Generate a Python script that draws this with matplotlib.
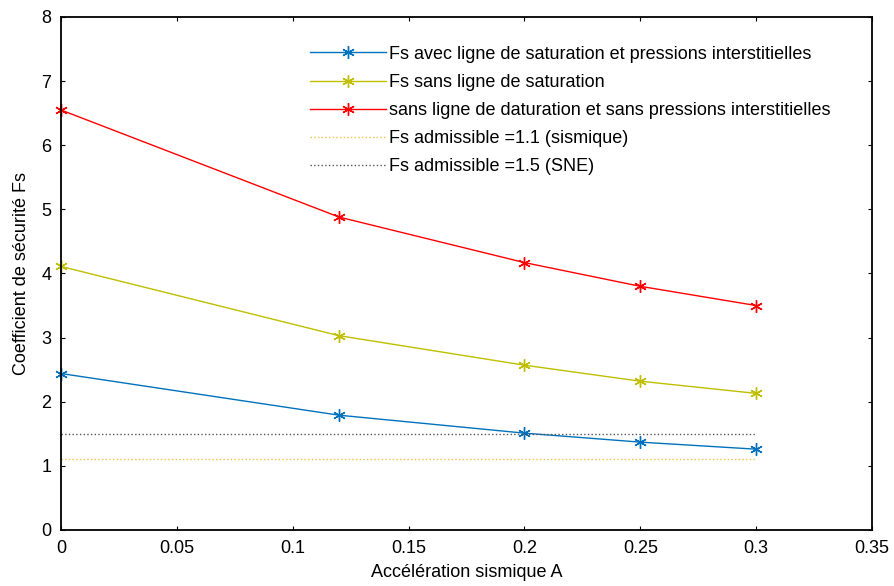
import numpy as np
import matplotlib.pyplot as plt

plt.rcParams['font.family'] = ['Liberation Sans', 'DejaVu Sans']

# accélération sismique A
accel = [0, 0.12, 0.2, 0.25, 0.3]
fs_sat_pi = [2.44, 1.79, 1.51, 1.37, 1.26]
fs_sans_sat = [4.11, 3.03, 2.57, 2.32, 2.13]
fs_sans_sat_pi = [6.55, 4.88, 4.17, 3.80, 3.50]
fs_adm_sism = 1.1
fs_adm_sne = 1.5

labels = [
    "Fs avec ligne de saturation et pressions interstitielles",
    "Fs sans ligne de saturation",
    "sans ligne de daturation et sans pressions interstitielles",
    "Fs admissible =1.1 (sismique)",
    "Fs admissible =1.5 (SNE)",
]

fig = plt.figure(figsize=(8.94, 5.86), dpi=100)
ax = fig.add_axes([0.0682, 0.0956, 0.9072, 0.8754])

star = (6, 2, 0)
kw = dict(lw=1, marker=star, ms=9, mew=1, clip_on=False)
ax.plot(accel, fs_sat_pi, color='#0072BD', label=labels[0], **kw)
ax.plot(accel, fs_sans_sat, color='#BFBF00', label=labels[1], **kw)
ax.plot(accel, fs_sans_sat_pi, color='#FF0000', label=labels[2], **kw)
ax.plot([accel[0], accel[-1]], [fs_adm_sism] * 2, color='#F2C04A', lw=1, ls=':', label=labels[3])
ax.plot([accel[0], accel[-1]], [fs_adm_sne] * 2, color='#555555', lw=1, ls=':', label=labels[4])

ax.set_xlim(0, 0.35)
ax.set_ylim(0, 8)
ax.set_xticks(np.arange(0, 0.351, 0.05))
ax.set_xticklabels(['0', '0.05', '0.1', '0.15', '0.2', '0.25', '0.3', '0.35'])
ax.set_yticks(range(0, 9))
ax.tick_params(direction='in', length=3, labelsize=13, pad=7, top=True, right=True,
               labeltop=False, labelright=False)
for s in ax.spines.values():
    s.set_linewidth(1.3)

ax.set_xlabel("Accélération sismique A", fontsize=13, labelpad=5)
ax.set_ylabel("Coefficient de sécurité Fs", fontsize=13, labelpad=8)

ax.legend(loc='upper left', bbox_to_anchor=(0.307, 0.944), frameon=False, borderpad=0,
          borderaxespad=0, fontsize=13, handlelength=4.2, handletextpad=0.2,
          labelspacing=0.62)

fig.savefig("out.png", dpi=100)
